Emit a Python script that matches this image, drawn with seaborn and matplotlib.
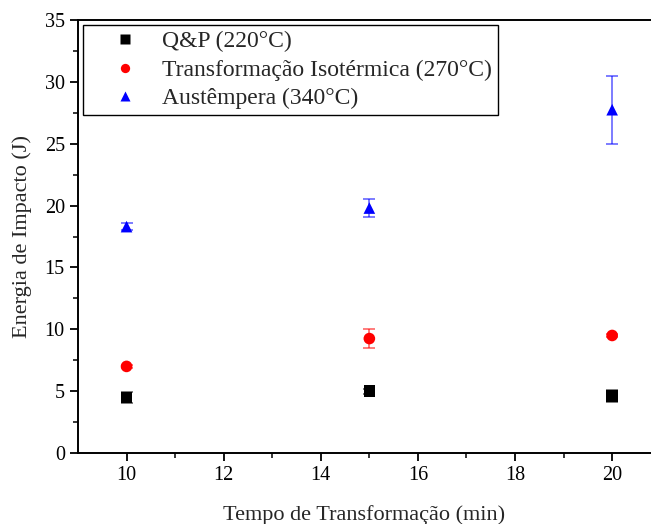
import numpy as np
import pandas as pd
import seaborn as sns
import matplotlib.pyplot as plt

tempo = [10, 15, 20]
qp = [4.5, 5.0, 4.6]
qp_err = [0.45, 0.2, 0.5]
ti = [7.0, 9.25, 9.5]
ti_err = [0.15, 0.75, 0.15]
aus = [18.3, 19.8, 27.75]
aus_err = [0.3, 0.75, 2.75]

series = ["Q&P (220°C)", "Transformação Isotérmica (270°C)", "Austêmpera (340°C)"]
colors = ["black", "red", "blue"]
markers = ["s", "o", "^"]

df = pd.DataFrame({
    "tempo": tempo * 3,
    "energia": qp + ti + aus,
    "erro": qp_err + ti_err + aus_err,
    "serie": [s for s in series for _ in tempo],
})

sns.set_style("ticks")
plt.rcParams["font.family"] = ["Liberation Serif", "DejaVu Serif"]

fig = plt.figure(figsize=(6.51, 5.24), dpi=100)
ax = fig.add_axes([0.1198, 0.1355, 0.8802, 0.8263])

for s, c in zip(series, colors):
    d = df[df.serie == s]
    ax.errorbar(d.tempo, d.energia, yerr=d.erro, fmt="none", ecolor=c,
                alpha=0.6, elinewidth=1.2, capsize=4, capthick=1.2, zorder=2)

sns.scatterplot(data=df, x="tempo", y="energia", hue="serie", style="serie",
                hue_order=series, style_order=series,
                palette=dict(zip(series, colors)), markers=dict(zip(series, markers)),
                s=70, edgecolor="none", ax=ax, zorder=3)

ax.set_xlim(9, 20.8)
ax.set_ylim(0, 35)
ax.set_xticks([10, 12, 14, 16, 18, 20])
ax.set_xticks([11, 13, 15, 17, 19], minor=True)
ax.set_yticks(np.arange(0, 36, 5))
ax.set_yticks(np.arange(2.5, 35, 5), minor=True)
ax.tick_params(which="major", direction="out", length=6, width=1.3, labelsize=14.5, colors="black")
ax.tick_params(which="minor", direction="out", length=3.5, width=1.3)
for side in ["left", "bottom", "top"]:
    ax.spines[side].set_linewidth(1.4)
    ax.spines[side].set_color("black")
ax.spines["right"].set_visible(False)

ax.set_xlabel("Tempo de Transformação (min)", fontsize=16, labelpad=14)
ax.set_ylabel("Energia de Impacto (J)", fontsize=16, labelpad=9)

leg = ax.legend(loc="upper left", bbox_to_anchor=(0.0, 1.0), fontsize=17,
                frameon=True, fancybox=False, edgecolor="black", framealpha=1,
                borderpad=0.25, handletextpad=0.0, labelspacing=0.3, markerscale=0.8,
                handlelength=3.1, borderaxespad=0.2)
leg.get_frame().set_linewidth(1.0)

fig.savefig("out.png", dpi=100)
